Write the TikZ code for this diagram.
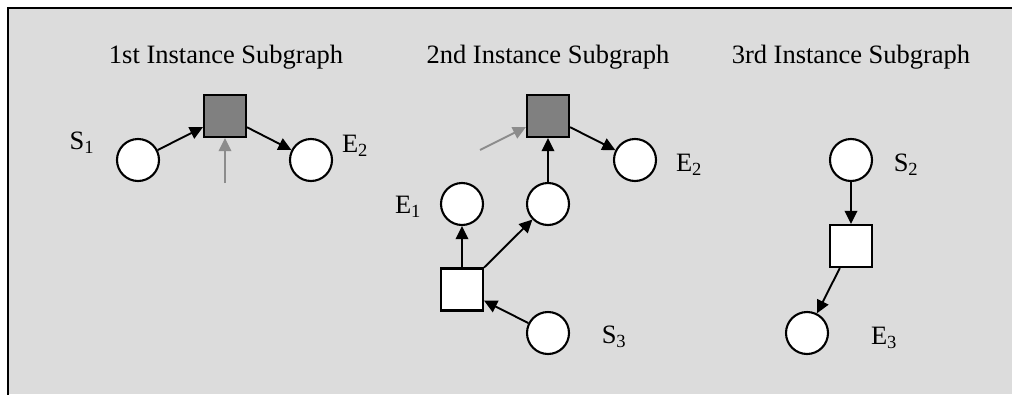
\documentclass[tikz,border=0pt]{standalone}
\usepackage{fontspec}
\setmainfont{Liberation Serif}
\usetikzlibrary{arrows.meta}
\definecolor{bg}{HTML}{DCDCDC}
\definecolor{darkbox}{HTML}{808080}
\definecolor{grayarrow}{HTML}{8C8C8C}
\tikzset{
  place/.style={circle, draw=black, fill=white, line width=2.1pt, minimum size=42pt, inner sep=0pt},
  trans/.style={rectangle, draw=black, fill=white, line width=2.1pt, minimum size=42pt, inner sep=0pt},
  darktrans/.style={trans, fill=darkbox},
  arc/.style={line width=1.9pt, -{Triangle[length=13pt,width=12.5pt]}},
  grayarc/.style={arc, draw=grayarrow, -{Triangle[length=13pt,width=12.5pt,color=grayarrow]}},
  lbl/.style={font=\fontsize{26.5}{30}\selectfont, inner sep=0pt},
  title/.style={font=\fontsize{26.5}{30}\selectfont, inner sep=0pt, anchor=base}
}
\begin{document}
\begin{tikzpicture}[x=1pt,y=-1pt]
\useasboundingbox (0,0) rectangle (1012,394);
\fill[white] (0,0) rectangle (1012,394);
\fill[bg] (8,8) rectangle (1012,394);
\draw[line width=2.8pt, line cap=rect] (8,394) -- (8,8) -- (1012,8);

% titles
\node[title] (t1) at (226,63) {1st Instance Subgraph};
\node[title] (t2) at (548,63) {2nd Instance Subgraph};
\node[title] (t3) at (851,63) {3rd Instance Subgraph};

% 1st subgraph
\node[place] (s1) at (138,160) {};
\node[darktrans] (q1) at (225,116) {};
\node[place] (e2a) at (311,160) {};
\coordinate (g1) at (225,183);
\node[lbl] (ls1) at (82,143) {S\textsubscript{1}};
\node[lbl] (le2a) at (355,146) {E\textsubscript{2}};
\draw[arc] (s1) -- (q1);
\draw[arc] (q1) -- (e2a);
\draw[grayarc] (g1) -- (q1);

% 2nd subgraph
\node[darktrans] (q2) at (548,116) {};
\node[place] (e2b) at (635,160) {};
\node[place] (m) at (548,204) {};
\node[place] (e1) at (462,204) {};
\node[trans] (w) at (462,289.5) {};
\node[place] (s3) at (548,333) {};
\coordinate (g2) at (480,150);
\node[lbl] (le2b) at (689,165) {E\textsubscript{2}};
\node[lbl] (le1) at (408,207) {E\textsubscript{1}};
\node[lbl] (ls3) at (614,337) {S\textsubscript{3}};
\draw[grayarc] (g2) -- (q2);
\draw[arc] (q2) -- (e2b);
\draw[arc] (m) -- (q2);
\draw[arc] (w) -- (e1);
\draw[arc] (w) -- (m);
\draw[arc] (s3) -- (w);

% 3rd subgraph
\node[place] (s2) at (851,160) {};
\node[trans] (q3) at (851,246) {};
\node[place] (e3) at (807,333) {};
\node[lbl] (ls2) at (906,165) {S\textsubscript{2}};
\node[lbl] (le3) at (884,338) {E\textsubscript{3}};
\draw[arc] (s2) -- (q3);
\draw[arc] (q3) -- (e3);
\end{tikzpicture}
\end{document}
